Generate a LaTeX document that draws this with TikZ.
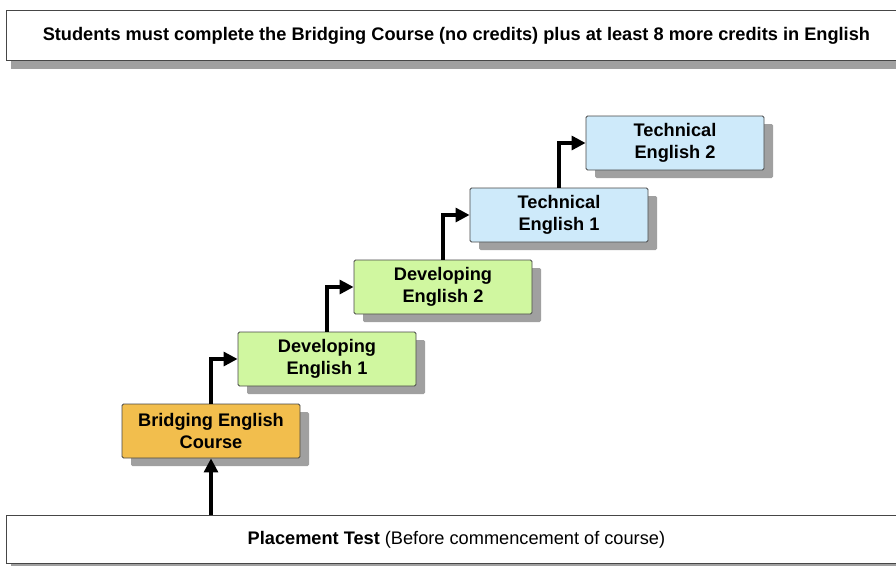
\documentclass[tikz,border=0pt]{standalone}
\usepackage{fontspec}
\setmainfont{Liberation Sans}
\usetikzlibrary{shadows,arrows.meta}
\definecolor{orangefill}{RGB}{242,190,77}
\definecolor{greenfill}{RGB}{208,247,160}
\definecolor{bluefill}{RGB}{206,234,250}
\definecolor{shadowgray}{RGB}{160,160,160}
\definecolor{edgegray}{RGB}{70,70,70}
\tikzset{
  banner/.style={draw=edgegray, line width=0.8pt, fill=white, minimum height=50pt,
    drop shadow={shadow xshift=5pt, shadow yshift=-9pt, fill=shadowgray, opacity=1},
    font=\fontsize{18.2}{21}\selectfont},
  stepbox/.style={draw=edgegray, line width=0.9pt, rounded corners=1.5pt,
    minimum width=178pt, minimum height=54pt, align=center, inner sep=0pt,
    drop shadow={shadow xshift=9pt, shadow yshift=-8pt, fill=shadowgray, opacity=1},
    font=\bfseries\fontsize{18.2}{22}\selectfont},
  flow/.style={line width=3.2pt, -{Triangle[length=14pt,width=14pt]}}
}
\begin{document}
\begin{tikzpicture}[x=1pt,y=-1pt]
\useasboundingbox (0,0) rectangle (896,565);
\node[banner, minimum width=900pt, anchor=north west] (top) at (6,10)
  {\textbf{Students must complete the Bridging Course (no credits) plus at least 8 more credits in English}};
\node[banner, minimum width=900pt, minimum height=48pt, anchor=north west] (pt) at (6,515)
  {\textbf{Placement Test} (Before commencement of course)};
\node[stepbox, fill=orangefill] (bridge) at (211,431) {Bridging English\\Course};
\node[stepbox, fill=greenfill] (dev1) at (327,359) {Developing\\English 1};
\node[stepbox, fill=greenfill] (dev2) at (443,287) {Developing\\English 2};
\node[stepbox, fill=bluefill] (tech1) at (559,215) {Technical\\English 1};
\node[stepbox, fill=bluefill] (tech2) at (675,143) {Technical\\English 2};
\draw[flow] (bridge.south |- pt.north) -- (bridge.south);
\draw[flow] (bridge.north) |- (dev1.west);
\draw[flow] (dev1.north) |- (dev2.west);
\draw[flow] (dev2.north) |- (tech1.west);
\draw[flow] (tech1.north) |- (tech2.west);
\end{tikzpicture}
\end{document}
